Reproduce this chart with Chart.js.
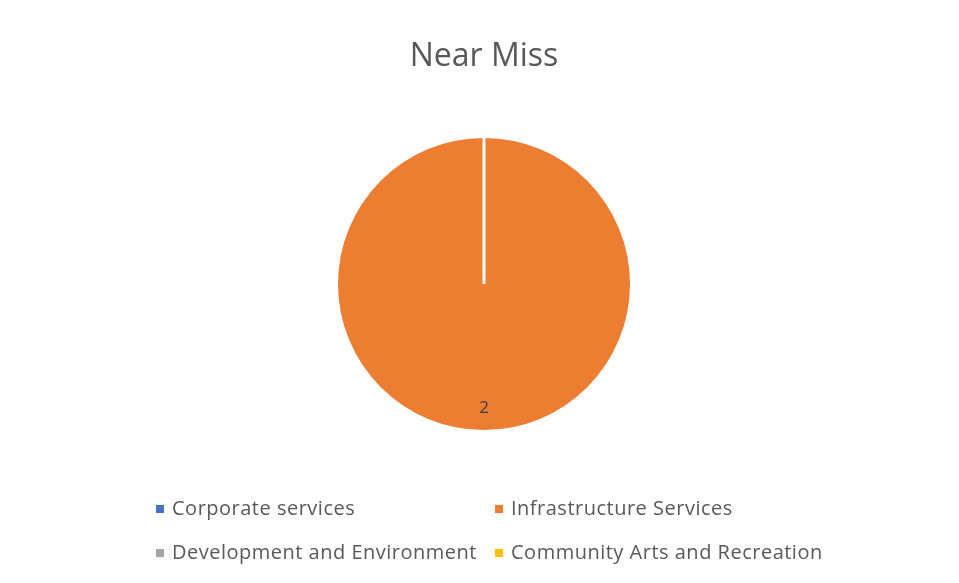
<!DOCTYPE html>
<html>
<head>
<meta charset="utf-8">
<script src="https://cdn.jsdelivr.net/npm/chart.js@4"></script>
<style>
  html, body { margin: 0; padding: 0; background: #ffffff; }
  #wrap { width: 959px; height: 583px; position: relative; }
</style>
</head>
<body>
<div id="wrap"><canvas id="c" width="959" height="583"></canvas></div>
<script>
// Near Miss incidents by directorate
const categories = ['Corporate services', 'Infrastructure Services', 'Development and Environment', 'Community Arts and Recreation'];
const nearMissCounts = [0, 2, 0, 0];
const sliceColors = ['#4472C4', '#ED7D31', '#A5A5A5', '#FFC000'];
const chartTitle = 'Near Miss';

const FONT = "'Open Sans', 'Noto Sans', sans-serif";
const TEXT_GREY = '#595959';

// White separator edge at the start of each non-empty slice, plus value labels
const sliceDecor = {
  id: 'sliceDecor',
  afterDatasetsDraw(chart) {
    const meta = chart.getDatasetMeta(0);
    const ctx = chart.ctx;
    ctx.save();
    meta.data.forEach((arc, i) => {
      const v = nearMissCounts[i];
      if (!v) return;
      const p = arc.getProps(['x', 'y', 'startAngle', 'endAngle', 'outerRadius'], true);
      // edge line
      ctx.strokeStyle = '#ffffff';
      ctx.lineWidth = 3;
      ctx.beginPath();
      ctx.moveTo(p.x, p.y);
      ctx.lineTo(p.x + Math.cos(p.startAngle) * p.outerRadius, p.y + Math.sin(p.startAngle) * p.outerRadius);
      ctx.stroke();
      // value label
      const mid = (p.startAngle + p.endAngle) / 2;
      const r = p.outerRadius * 0.85;
      ctx.fillStyle = '#404040';
      ctx.font = '17px ' + FONT;
      ctx.textAlign = 'center';
      ctx.textBaseline = 'middle';
      ctx.fillText(String(v), p.x + Math.cos(mid) * r, p.y + Math.sin(mid) * r);
    });
    ctx.restore();
  }
};

// Two-column legend below the pie
const gridLegend = {
  id: 'gridLegend',
  afterDraw(chart, args, opts) {
    const ctx = chart.ctx;
    ctx.save();
    ctx.font = opts.fontSize + 'px ' + FONT;
    ctx.letterSpacing = opts.spacing;
    ctx.textBaseline = 'middle';
    ctx.textAlign = 'left';
    categories.forEach((label, i) => {
      const col = i % 2, row = Math.floor(i / 2);
      const x = opts.colX[col];
      const y = opts.rowY[row];
      ctx.fillStyle = sliceColors[i];
      ctx.fillRect(x, y - opts.box / 2, opts.box, opts.box);
      ctx.fillStyle = TEXT_GREY;
      ctx.fillText(label, x + opts.box + 8, y);
    });
    ctx.restore();
  }
};

new Chart(document.getElementById('c'), {
  type: 'pie',
  data: {
    labels: categories,
    datasets: [{
      data: nearMissCounts,
      backgroundColor: sliceColors,
      borderWidth: 0
    }]
  },
  options: {
    responsive: false,
    animation: false,
    layout: { padding: { top: 0, bottom: 153, left: 9, right: 0 } },
    plugins: {
      legend: { display: false },
      tooltip: { enabled: false },
      title: {
        display: true,
        text: chartTitle,
        color: TEXT_GREY,
        font: { family: FONT, size: 32, weight: 'normal', lineHeight: 1.2 },
        padding: { top: 38, bottom: 61.6 }
      },
      gridLegend: {
        fontSize: 20,
        spacing: '0.5px',
        box: 8,
        colX: [156, 495],
        rowY: [509, 553]
      }
    }
  },
  plugins: [sliceDecor, gridLegend]
});
</script>
</body>
</html>
